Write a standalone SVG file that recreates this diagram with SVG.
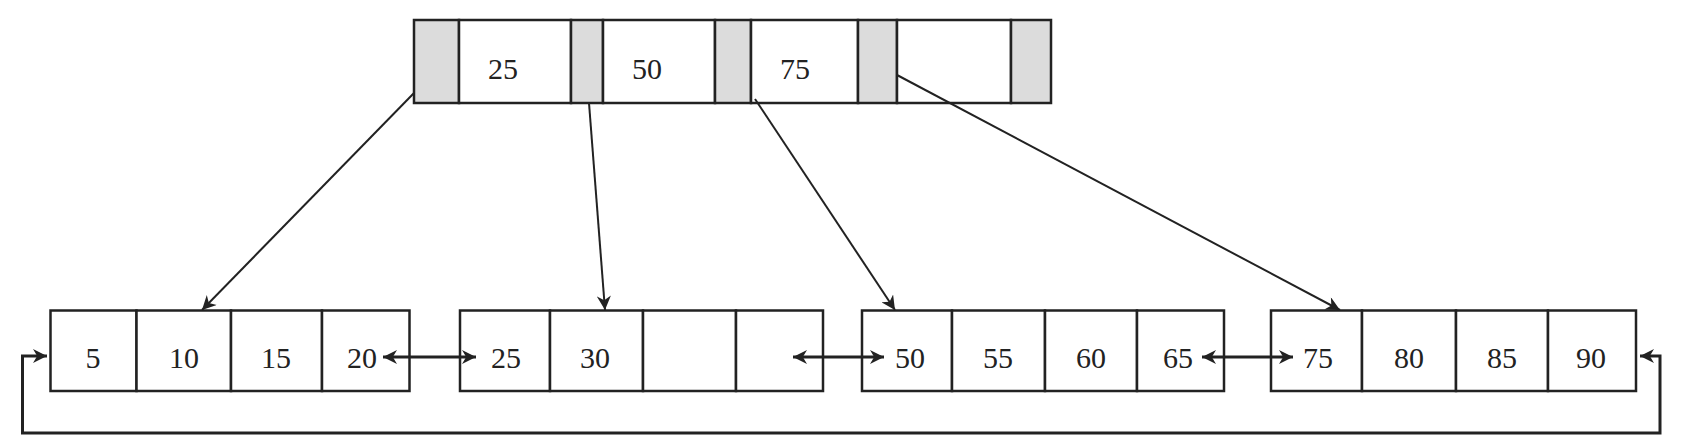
<svg xmlns="http://www.w3.org/2000/svg" width="1685" height="448" viewBox="0 0 1685 448">
<style>
.c{fill:#fff;stroke:#222;stroke-width:2.5}
.g{fill:#dcdcdc;stroke:#222;stroke-width:2.5}
.t{font-family:"Liberation Serif",serif;font-size:30px;fill:#222;text-anchor:middle}
.l{fill:none;stroke:#222;stroke-width:2}
.b{fill:none;stroke:#222;stroke-width:3}
</style>
<defs>
<marker id="a2" viewBox="0 0 10 10" refX="10" refY="5" markerWidth="18" markerHeight="14" markerUnits="userSpaceOnUse" orient="auto-start-reverse"><path d="M0,0 L10,5 L0,10 L3,5Z" fill="#222"/></marker>
</defs>
<g id="root">
<rect class="g" x="414" y="20" width="45" height="83"/>
<rect class="c" x="459" y="20" width="112" height="83"/>
<rect class="g" x="571" y="20" width="32" height="83"/>
<rect class="c" x="603" y="20" width="112" height="83"/>
<rect class="g" x="715" y="20" width="36" height="83"/>
<rect class="c" x="751" y="20" width="107" height="83"/>
<rect class="g" x="858" y="20" width="39" height="83"/>
<rect class="c" x="897" y="20" width="114" height="83"/>
<rect class="g" x="1011" y="20" width="40" height="83"/>
<text class="t" x="503" y="79">25</text>
<text class="t" x="647" y="79">50</text>
<text class="t" x="795" y="79">75</text>
</g>
<g id="leaf1">
<rect class="c" x="50.5" y="310.5" width="86" height="80.5"/><rect class="c" x="136.5" y="310.5" width="94.5" height="80.5"/><rect class="c" x="231" y="310.5" width="91" height="80.5"/><rect class="c" x="322" y="310.5" width="87.5" height="80.5"/>
<text class="t" x="93" y="368">5</text><text class="t" x="184" y="368">10</text><text class="t" x="276" y="368">15</text><text class="t" x="362" y="368">20</text>
</g>
<g id="leaf2">
<rect class="c" x="460" y="310.5" width="90" height="80.5"/><rect class="c" x="550" y="310.5" width="93" height="80.5"/><rect class="c" x="643" y="310.5" width="93" height="80.5"/><rect class="c" x="736" y="310.5" width="87" height="80.5"/>
<text class="t" x="506" y="368">25</text><text class="t" x="595" y="368">30</text>
</g>
<g id="leaf3">
<rect class="c" x="862" y="310.5" width="90" height="80.5"/><rect class="c" x="952" y="310.5" width="93" height="80.5"/><rect class="c" x="1045" y="310.5" width="92" height="80.5"/><rect class="c" x="1137" y="310.5" width="87" height="80.5"/>
<text class="t" x="910" y="368">50</text><text class="t" x="998" y="368">55</text><text class="t" x="1091" y="368">60</text><text class="t" x="1178" y="368">65</text>
</g>
<g id="leaf4">
<rect class="c" x="1271" y="310.5" width="91" height="80.5"/><rect class="c" x="1362" y="310.5" width="94" height="80.5"/><rect class="c" x="1456" y="310.5" width="92" height="80.5"/><rect class="c" x="1548" y="310.5" width="88" height="80.5"/>
<text class="t" x="1318" y="368">75</text><text class="t" x="1409" y="368">80</text><text class="t" x="1502" y="368">85</text><text class="t" x="1591" y="368">90</text>
</g>
<g id="connectors">
<line class="l" x1="414" y1="93" x2="202" y2="310" marker-end="url(#a2)"/>
<line class="l" x1="589" y1="103" x2="605" y2="310" marker-end="url(#a2)"/>
<line class="l" x1="755" y1="99" x2="895" y2="310" marker-end="url(#a2)"/>
<line class="l" x1="897" y1="75" x2="1340" y2="310" marker-end="url(#a2)"/>
<line class="b" x1="383" y1="357" x2="476" y2="357" marker-start="url(#a2)" marker-end="url(#a2)"/>
<line class="b" x1="793" y1="357" x2="884" y2="357" marker-start="url(#a2)" marker-end="url(#a2)"/>
<line class="b" x1="1202" y1="357" x2="1293" y2="357" marker-start="url(#a2)" marker-end="url(#a2)"/>
<polyline class="b" points="1640,356 1660,356 1660,433 22.5,433 22.5,356 47,356" marker-start="url(#a2)" marker-end="url(#a2)"/>
</g>
</svg>
